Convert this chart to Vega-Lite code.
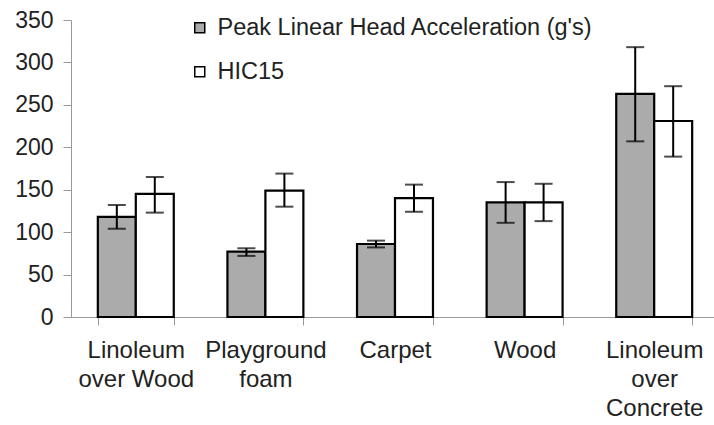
{
  "$schema": "https://vega.github.io/schema/vega-lite/v6.json",
  "width": 643,
  "height": 297,
  "autosize": {"type": "none"},
  "padding": {"left": 71, "top": 20, "right": 0, "bottom": 108},
  "background": "white",
  "config": {
    "view": {"stroke": null},
    "font": "Liberation Sans",
    "axis": {"grid": false, "domainColor": "#999999", "tickColor": "#999999", "labelColor": "#222222", "labelFont": "Liberation Sans", "labelFontSize": 23, "title": null}
  },
  "data": {
    "values": [
      {"surface": "Linoleum over Wood", "measure": "Peak Linear Head Acceleration (g's)", "value": 118, "lo": 104, "hi": 132},
      {"surface": "Linoleum over Wood", "measure": "HIC15", "value": 145, "lo": 123, "hi": 165},
      {"surface": "Playground foam", "measure": "Peak Linear Head Acceleration (g's)", "value": 77, "lo": 72, "hi": 81},
      {"surface": "Playground foam", "measure": "HIC15", "value": 149, "lo": 130, "hi": 169},
      {"surface": "Carpet", "measure": "Peak Linear Head Acceleration (g's)", "value": 86, "lo": 82, "hi": 90},
      {"surface": "Carpet", "measure": "HIC15", "value": 140, "lo": 124, "hi": 156},
      {"surface": "Wood", "measure": "Peak Linear Head Acceleration (g's)", "value": 135, "lo": 111, "hi": 159},
      {"surface": "Wood", "measure": "HIC15", "value": 135, "lo": 113, "hi": 157},
      {"surface": "Linoleum over Concrete", "measure": "Peak Linear Head Acceleration (g's)", "value": 263, "lo": 207, "hi": 318},
      {"surface": "Linoleum over Concrete", "measure": "HIC15", "value": 231, "lo": 189, "hi": 272}
    ]
  },
  "encoding": {
    "x": {
      "field": "surface", "type": "nominal",
      "sort": ["Linoleum over Wood", "Playground foam", "Carpet", "Wood", "Linoleum over Concrete"],
      "scale": {"range": [0, 648], "paddingInner": 0.414, "paddingOuter": 0.207},
      "axis": {
        "labelAngle": 0, "tickBand": "extent", "tickSize": 8, "labelPadding": 13, "labelLineHeight": 29, "labelBaseline": "top", "labelFontSize": 24,
        "labelExpr": "datum.label == 'Linoleum over Wood' ? ['Linoleum', 'over Wood'] : datum.label == 'Playground foam' ? ['Playground', 'foam'] : datum.label == 'Linoleum over Concrete' ? ['Linoleum', 'over', 'Concrete'] : datum.label"
      }
    },
    "xOffset": {"field": "measure", "type": "nominal", "sort": ["Peak Linear Head Acceleration (g's)", "HIC15"], "scale": {"paddingInner": 0, "paddingOuter": 0}}
  },
  "layer": [
    {
      "mark": {"type": "bar", "stroke": "black", "strokeWidth": 2.2},
      "encoding": {
        "y": {"field": "value", "type": "quantitative", "scale": {"domain": [0, 350]}, "axis": {"values": [0, 50, 100, 150, 200, 250, 300, 350], "tickSize": 8, "labelPadding": 10}},
        "color": {
          "field": "measure", "type": "nominal",
          "scale": {"domain": ["Peak Linear Head Acceleration (g's)", "HIC15"], "range": ["#ababab", "#ffffff"]},
          "legend": {
            "title": null, "orient": "none", "legendX": 117, "legendY": -4,
            "symbolType": "square", "symbolSize": 100, "symbolStrokeColor": "black", "symbolStrokeWidth": 1.5,
            "labelFontSize": 23.5, "labelColor": "#222222", "labelFont": "Liberation Sans", "labelOffset": 6, "rowPadding": 19, "labelLimit": 500
          }
        }
      }
    },
    {
      "mark": {"type": "rule", "color": "black", "strokeWidth": 2},
      "encoding": {
        "y": {"field": "lo", "type": "quantitative"},
        "y2": {"field": "hi"}
      }
    },
    {
      "mark": {"type": "tick", "color": "black", "size": 18, "thickness": 2, "orient": "horizontal"},
      "encoding": {"y": {"field": "hi", "type": "quantitative"}}
    },
    {
      "mark": {"type": "tick", "color": "black", "size": 18, "thickness": 2, "orient": "horizontal"},
      "encoding": {"y": {"field": "lo", "type": "quantitative"}}
    }
  ]
}
